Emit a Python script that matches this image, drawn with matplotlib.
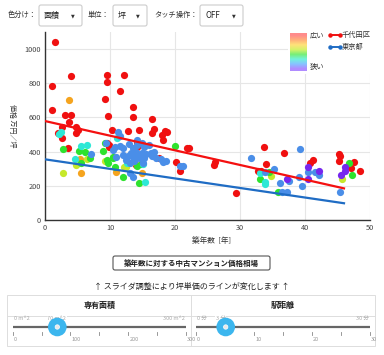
import matplotlib
matplotlib.use("Agg")
import matplotlib.pyplot as plt
from matplotlib.patches import Rectangle, FancyBboxPatch, Circle
from matplotlib.colors import to_rgb
import numpy as np

plt.rcParams['font.family'] = ['Noto Sans CJK JP', 'DejaVu Sans']

# --- data: (building age [years], price [10k yen / tsubo]) ---
red_age = [1.5, 1.0, 1.0, 4.0, 4.0, 3.1, 3.7, 4.8, 5.0, 4.8, 2.0, 2.6, 2.6, 3.6,
           9.5, 9.5, 9.3, 9.7, 11.5, 12.2, 13.5, 13.5, 10.3, 12.8, 14.4, 9.5, 9.9,
           9.9, 14.1, 14.2, 14.0, 16.4, 16.7, 16.4, 18.0, 18.5, 18.7, 18.2, 17.5,
           20.2, 20.7, 21.9, 22.2, 26.0, 26.1, 29.4, 33.7, 34.0, 32.8, 33.2, 36.8,
           40.7, 41.2, 45.2, 45.4, 45.3, 47.0, 47.6, 48.4]
red_price = [1043, 784, 643, 844, 614, 612, 573, 546, 526, 507, 507, 542, 478, 423,
             850, 809, 706, 608, 754, 846, 663, 602, 526, 522, 526, 452, 439,
             425, 458, 429, 322, 593, 530, 507, 495, 522, 514, 468, 365,
             337, 289, 421, 421, 320, 337, 160, 429, 326, 288, 288, 390,
             332, 351, 384, 372, 347, 306, 337, 287]

blue_age = [7.0, 11.2, 11.6, 9.4, 10.4, 10.7, 11.5, 12.0, 12.9, 13.5, 14.2, 14.1,
            14.9, 15.3, 16.0, 16.3, 16.4, 14.0, 13.2, 12.7, 13.5, 14.2, 14.9, 15.5,
            14.5, 13.7, 13.1, 12.5, 15.3, 12.0, 10.9, 13.5, 13.0, 16.8, 17.1, 17.8,
            18.1, 18.6, 20.7, 21.3, 31.7, 39.3, 35.3, 33.9, 39.0, 36.2, 39.5, 36.5,
            37.3, 40.5, 41.5, 42.2, 45.4, 37.5, 15.0]
blue_price = [384, 513, 490, 448, 409, 429, 433, 419, 444, 419, 438, 468,
              448, 429, 438, 394, 374, 400, 390, 374, 370, 380, 390, 386,
              361, 347, 331, 351, 361, 380, 370, 253, 273, 396, 361, 355,
              337, 347, 316, 316, 365, 415, 298, 283, 251, 214, 199, 164,
              164, 283, 283, 265, 164, 230, 335]

green_age = [2.8, 5.2, 6.1, 6.9, 5.5, 9.2, 8.9, 9.7, 10.4, 10.8, 10.4, 12.0, 14.8,
             14.4, 20.0, 35.8, 34.5, 33.0, 46.7, 47.2, 9.5, 14.2]
green_price = [413, 405, 396, 364, 331, 452, 405, 331, 370, 312, 361, 253, 326,
               218, 433, 164, 283, 242, 331, 265, 351, 318]

cyan_age = [2.5, 2.2, 5.5, 6.5, 4.6, 12.6, 15.4, 11.0, 33.8, 33.8, 33.1, 15.1]
cyan_price = [516, 503, 433, 439, 357, 331, 224, 478, 224, 210, 273, 325]

lime_age = [6.4, 4.8, 2.8, 9.3, 12.1, 12.5, 34.8, 45.7]
lime_price = [357, 322, 273, 345, 308, 308, 257, 238]

orange_age = [3.7, 5.4, 5.5, 10.9, 14.9, 13.6]
orange_price = [702, 357, 273, 283, 273, 341]

purple_age = [40.5, 40.5, 42.2, 46.2, 46.2, 45.6, 37.2]
purple_price = [308, 242, 287, 308, 287, 265, 242]

# trend lines
line_age = [0, 46]
chiyoda_line = [579, 185]
tokyo_line = [355, 98]

x_ticks = [0, 10, 20, 30, 40, 50]
y_ticks = [0, 200, 400, 600, 800, 1000]

legend_colors = ['#ff8c8c', '#ffb27a', '#ffe27a', '#d6f26a', '#78ee78', '#72f2dc',
                 '#86c4ff', '#b08cff']

W, H = 384, 355
fig = plt.figure(figsize=(W / 100, H / 100), dpi=100)
fig.patch.set_facecolor('white')

# chart axes placed in pixel box (45..370, 32..220)
ax = fig.add_axes([45 / W, (H - 220) / H, 325 / W, 188 / H], zorder=1)
ax.set_facecolor('none')

groups = [
    (red_age, red_price, '#f01010'),
    (orange_age, orange_price, '#f5a41e'),
    (lime_age, lime_price, '#c6e82a'),
    (green_age, green_price, '#2ee22e'),
    (cyan_age, cyan_price, '#2ee8d6'),
    (blue_age, blue_price, '#4a8ee8'),
    (purple_age, purple_price, '#7626ee'),
]
for xs, ys, c in groups:
    ax.scatter(xs, ys, s=27, color=c, linewidths=0, zorder=3)

ax.plot(line_age, chiyoda_line, color='#f41010', lw=1.6, zorder=4)
ax.plot(line_age, tokyo_line, color='#1f6cc4', lw=1.6, zorder=4)

ax.set_xlim(0, 50)
ax.set_ylim(0, 1100)
ax.set_xticks(x_ticks)
ax.set_yticks(y_ticks)
ax.grid(True, color='#e6e6e6', lw=0.8, zorder=0)
ax.set_axisbelow(True)
for s in ['top', 'right']:
    ax.spines[s].set_visible(False)
for s in ['left', 'bottom']:
    ax.spines[s].set_color('#333333')
    ax.spines[s].set_linewidth(1.0)
ax.tick_params(length=0, labelsize=5.3, labelcolor='#444444', pad=3)

# overlay axes in pixel coordinates for the page widgets
ui = fig.add_axes([0, 0, 1, 1], zorder=2)
ui.set_xlim(0, W)
ui.set_ylim(H, 0)
ui.axis('off')
ui.patch.set_alpha(0)

txt = dict(color='#333333', va='center')

# top controls
ui.text(8, 15, '色分け：', fontsize=5.2, **txt)
ui.text(88, 15, '単位：', fontsize=5.2, **txt)
ui.text(154, 15, 'タッチ操作：', fontsize=5.2, **txt)
for x0, x1, label in [(39, 82, '面積'), (113, 147, '坪'), (200, 243, 'OFF')]:
    ui.add_patch(FancyBboxPatch((x0, 5), x1 - x0, 21, boxstyle='round,pad=0,rounding_size=2',
                                fc='white', ec='#cccccc', lw=0.8))
    ui.text(x0 + 5, 15.5, label, fontsize=5.8, color='#222222', va='center')
    ui.text(x1 - 9, 16, '▼', fontsize=3.5, color='#333333', va='center', ha='center',
            family=['DejaVu Sans'])

# y axis label and x axis label
ui.text(12, 126, '価格 万円／坪', rotation=270, fontsize=5, color='#333333',
        ha='center', va='center')
ui.text(211, 241, '築年数  [年]', fontsize=5.5, color='#333333', ha='center', va='center')

# legend
ui.add_patch(Rectangle((288, 32), 84, 42, fc='white', ec='none'))
grad = np.array([to_rgb(c) for c in legend_colors])[:, None, :]
ui.imshow(grad, extent=[290, 307, 71, 33], aspect='auto', interpolation='bilinear', zorder=3)
ui.text(310, 35, '広い', fontsize=5.2, color='#333333', va='center')
ui.text(310, 67, '狭い', fontsize=5.2, color='#333333', va='center')
ui.plot([330, 340], [35, 35], color='#f01010', lw=1.4, marker='o', ms=2.2)
ui.text(342, 35, '千代田区', fontsize=5.2, color='#333333', va='center')
ui.plot([330, 340], [47, 47], color='#1f6cc4', lw=1.4, marker='o', ms=2.2)
ui.text(342, 47, '東京都', fontsize=5.2, color='#333333', va='center')

# button
ui.add_patch(FancyBboxPatch((113, 256), 157, 14, boxstyle='round,pad=0,rounding_size=2',
                            fc='white', ec='#555555', lw=0.8))
ui.text(191.5, 263, '築年数に対する中古マンション価格相場', fontsize=5.4, color='#222222',
        ha='center', va='center', weight='bold')
ui.text(192, 286, '↑ スライダ調整により坪単価のラインが変化します ↑', fontsize=5.8,
        color='#222222', ha='center', va='center')

# slider panels
ui.add_patch(Rectangle((7, 295), 368, 50.5, fc='white', ec='#dddddd', lw=0.7))
ui.plot([191, 191], [295, 345.5], color='#dddddd', lw=0.7)
ui.plot([7, 375], [316, 316], color='#dddddd', lw=0.7)
ui.text(100, 305.5, '専有面積', fontsize=5.8, color='#222222', ha='center', va='center',
        weight='bold')
ui.text(283, 305.5, '駅距離', fontsize=5.8, color='#222222', ha='center', va='center',
        weight='bold')

sliders = [
    (12.7, 185.7, 57.3, ['0', '100', '200', '300'], '0 m^2', '70 m^2', '300 m^2'),
    (195.7, 369.7, 225.7, ['0', '10', '20', '30'], '0 分', '3 分', '30 分'),
]
for x0, x1, knob, labels, lo, cur, hi in sliders:
    ui.plot([x0, x1], [327, 327], color='#666666', lw=1.6, solid_capstyle='butt')
    for i in range(7):
        tx = x0 + (x1 - x0) * i / 6
        ui.plot([tx, tx], [332, 334.5], color='#888888', lw=0.6)
    for i, lab in enumerate(labels):
        tx = x0 + (x1 - x0) * i / 3
        ui.text(tx + 1.5, 339.5, lab, fontsize=4, color='#999999', ha='left', va='center')
    ui.text(x0 + 1.5, 318.5, lo, fontsize=4, color='#aaaaaa', ha='left', va='center')
    ui.text(knob - 10, 318.5, cur, fontsize=4, color='#aaaaaa', ha='left', va='center',
            bbox=dict(fc='white', ec='none', pad=0.3))
    ui.text(x1 - 1, 318.5, hi, fontsize=4, color='#aaaaaa', ha='right', va='center')
    ui.add_patch(Circle((knob, 327), 9.3, fc='#3cb6ee', ec='none', zorder=5))
    ui.add_patch(Circle((knob, 327), 2.2, fc='#e8e8e8', ec='white', lw=0.5, zorder=6))

fig.savefig('out.png', dpi=100, facecolor='white')
